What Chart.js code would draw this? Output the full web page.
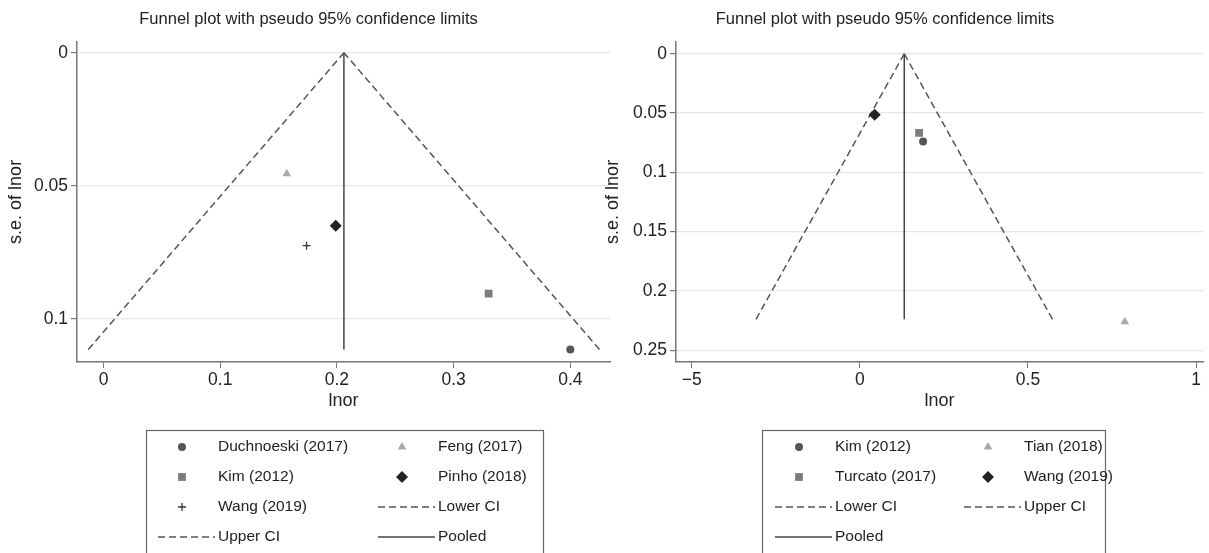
<!DOCTYPE html>
<html>
<head>
<meta charset="utf-8">
<script src="https://cdn.jsdelivr.net/npm/chart.js@4"></script>
<style>
  html, body { margin: 0; padding: 0; background: #fff; overflow: hidden; }
  body { width: 1209px; height: 553px; position: relative; }
  canvas { position: absolute; top: 0; }
  #left { left: 0; }
  #right { left: 561px; }
</style>
</head>
<body>
<canvas id="left" width="620" height="553"></canvas>
<canvas id="right" width="648" height="553"></canvas>
<script>
const chartTitle = 'Funnel plot with pseudo 95% confidence limits'

// left panel
const leftStudies = ['Duchnoeski (2017)', 'Feng (2017)', 'Kim (2012)', 'Pinho (2018)', 'Wang (2019)']
const leftLnor = [0.400, 0.157, 0.330, 0.199, 0.174]
const leftSe = [0.1115, 0.0455, 0.0905, 0.065, 0.0725]
const leftLowerX = [-0.013, 0.206]
const leftUpperX = [0.425, 0.206]
const leftPooledX = [0.206, 0.206]
const leftLineSe = [0.1115, 0]
const leftXTicks = [0, 0.1, 0.2, 0.3, 0.4]
const leftXTickLabels = ['0', '0.1', '0.2', '0.3', '0.4']
const leftYTicks = [0, 0.05, 0.1]
const leftYTickLabels = ['0', '0.05', '0.1']

// right panel
const rightStudies = ['Kim (2012)', 'Tian (2018)', 'Turcato (2017)', 'Wang (2019)']
const rightLnor = [0.188, 0.788, 0.176, 0.044]
const rightSe = [0.074, 0.226, 0.0667, 0.0515]
const rightLowerX = [-0.309, 0.132]
const rightUpperX = [0.573, 0.132]
const rightPooledX = [0.132, 0.132]
const rightLineSe = [0.224, 0]
const rightXTicks = [-0.5, 0, 0.5, 1]
const rightXTickLabels = ['\u22125', '0', '0.5', '1']
const rightYTicks = [0, 0.05, 0.1, 0.15, 0.2, 0.25]
const rightYTickLabels = ['0', '0.05', '0.1', '0.15', '0.2', '0.25']

const FONT = '"Liberation Sans", Arial, Helvetica, sans-serif'

const markers = {
  circle:  { pointStyle: 'circle',  pointRadius: 4,   color: '#555555', borderWidth: 0 },
  square:  { pointStyle: 'rect',    pointRadius: 5.5, color: '#7c7c7c', borderWidth: 0 },
  triangle:{ pointStyle: 'triangle',pointRadius: 5,   color: '#a9a9a9', borderWidth: 0 },
  diamond: { pointStyle: 'rectRot', pointRadius: 6,   color: '#222222', borderWidth: 0 },
  plus:    { pointStyle: 'cross',   pointRadius: 4,   color: '#333333', borderWidth: 1.3 }
}

function studySet(label, x, y, m) {
  return {
    label: label,
    data: [{ x: x, y: y }],
    pointStyle: m.pointStyle,
    pointRadius: m.pointRadius,
    pointBackgroundColor: m.color,
    pointBorderColor: m.color,
    pointBorderWidth: m.borderWidth,
    backgroundColor: m.color,
    borderColor: m.color,
    borderWidth: m.borderWidth
  }
}

function lineSet(label, xs, ys, dashed) {
  return {
    label: label,
    data: xs.map((x, i) => ({ x: x, y: ys[i] })),
    showLine: true,
    isLine: true,
    pointRadius: 0,
    borderColor: dashed ? '#555555' : '#444444',
    borderWidth: 1.5,
    borderDash: dashed ? [7, 4] : []
  }
}

// draws the boxed two-column legend under each plot
const boxLegend = {
  id: 'boxLegend',
  afterDraw(chart, args, opts) {
    const ctx = chart.ctx
    ctx.save()
    ctx.strokeStyle = '#666'
    ctx.lineWidth = 1.2
    ctx.strokeRect(opts.left + 0.5, opts.top + 0.5, opts.width, 200)
    ctx.font = '15.5px ' + FONT
    ctx.textBaseline = 'middle'
    chart.data.datasets.forEach((ds, i) => {
      const col = i % 2
      const row = Math.floor(i / 2)
      const tx = opts.left + opts.textX[col]
      const y = opts.top + opts.firstRow + row * opts.rowGap
      ctx.save()
      if (ds.isLine) {
        ctx.strokeStyle = ds.borderColor
        ctx.lineWidth = ds.borderWidth
        ctx.setLineDash(ds.borderDash)
        ctx.beginPath()
        ctx.moveTo(tx - 60, y)
        ctx.lineTo(tx - 3, y)
        ctx.stroke()
      } else {
        ctx.fillStyle = ds.pointBackgroundColor
        ctx.strokeStyle = ds.pointBorderColor
        ctx.lineWidth = ds.pointBorderWidth
        Chart.helpers.drawPoint(ctx, {
          pointStyle: ds.pointStyle,
          radius: ds.pointRadius,
          borderWidth: ds.pointBorderWidth,
          rotation: 0
        }, tx - 36, y)
      }
      ctx.restore()
      ctx.fillStyle = '#222'
      ctx.fillText(ds.label, tx, y)
    })
    ctx.restore()
  }
}

function makeOptions(cfg) {
  return {
    responsive: false,
    animation: false,
    events: [],
    layout: { padding: cfg.padding },
    plugins: {
      legend: { display: false },
      tooltip: { enabled: false },
      title: {
        display: true,
        text: chartTitle,
        color: '#222',
        font: { family: FONT, size: 16.5, weight: 'normal' },
        padding: { top: 10, bottom: 12 }
      },
      boxLegend: cfg.legend
    },
    scales: {
      x: {
        type: 'linear',
        min: cfg.xMin,
        max: cfg.xMax,
        afterBuildTicks: s => { s.ticks = cfg.xTicks.map(v => ({ value: v })) },
        afterFit: s => { s.height = 50 },
        ticks: {
          color: '#222',
          font: { family: FONT, size: 17.5 },
          padding: 2,
          maxRotation: 0,
          autoSkip: false,
          callback: (v, i) => cfg.xLabels[i]
        },
        grid: { drawOnChartArea: false, drawTicks: true, tickLength: 6, tickColor: '#777' },
        border: { display: true, color: '#777', width: 1.5 },
        title: {
          display: true,
          text: 'lnor',
          color: '#222',
          font: { family: FONT, size: 18 },
          padding: { top: 0, bottom: 0 }
        }
      },
      y: {
        type: 'linear',
        reverse: true,
        min: cfg.yMin,
        max: cfg.yMax,
        afterBuildTicks: s => { s.ticks = cfg.yTicks.map(v => ({ value: v })) },
        afterFit: s => { s.width = cfg.yWidth },
        ticks: {
          color: '#222',
          font: { family: FONT, size: 17.5 },
          padding: 3,
          autoSkip: false,
          callback: (v, i) => cfg.yLabels[i]
        },
        grid: { color: '#e6e6e6', lineWidth: 1.2, drawTicks: true, tickLength: 6, tickColor: '#777' },
        border: { display: true, color: '#777', width: 1.5 },
        title: {
          display: true,
          text: 's.e. of lnor',
          color: '#222',
          font: { family: FONT, size: 18 },
          padding: { top: cfg.yTitleShift, bottom: 0 }
        }
      }
    }
  }
}

const leftMarkers = [markers.circle, markers.triangle, markers.square, markers.diamond, markers.plus]
const leftData = leftStudies.map((s, i) => studySet(s, leftLnor[i], leftSe[i], leftMarkers[i]))
leftData.push(lineSet('Lower CI', leftLowerX, leftLineSe, true))
leftData.push(lineSet('Upper CI', leftUpperX, leftLineSe, true))
leftData.push(lineSet('Pooled', leftPooledX, leftLineSe, false))

new Chart(document.getElementById('left'), {
  type: 'scatter',
  data: { datasets: leftData },
  options: makeOptions({
    padding: { left: 7, right: 10, top: 0, bottom: 141 },
    xMin: -0.0227, xMax: 0.434, yMin: -0.0041, yMax: 0.1162,
    xTicks: leftXTicks, xLabels: leftXTickLabels,
    yTicks: leftYTicks, yLabels: leftYTickLabels,
    yWidth: 70, yTitleShift: -2,
    legend: { left: 146, top: 430, width: 397, textX: [72, 292], firstRow: 17, rowGap: 30 }
  }),
  plugins: [boxLegend]
})

const rightMarkers = [markers.circle, markers.triangle, markers.square, markers.diamond]
const rightData = rightStudies.map((s, i) => studySet(s, rightLnor[i], rightSe[i], rightMarkers[i]))
rightData.push(lineSet('Lower CI', rightLowerX, rightLineSe, true))
rightData.push(lineSet('Upper CI', rightUpperX, rightLineSe, true))
rightData.push(lineSet('Pooled', rightPooledX, rightLineSe, false))

new Chart(document.getElementById('right'), {
  type: 'scatter',
  data: { datasets: rightData },
  options: makeOptions({
    padding: { left: 0, right: 0, top: 0, bottom: 141 },
    xMin: -0.547, xMax: 1.0206, yMin: -0.0101, yMax: 0.260,
    xTicks: rightXTicks, xLabels: rightXTickLabels,
    yTicks: rightYTicks, yLabels: rightYTickLabels,
    yWidth: 115, yTitleShift: 41,
    legend: { left: 201, top: 430, width: 343, textX: [73, 262], firstRow: 17, rowGap: 30 }
  }),
  plugins: [boxLegend]
})
</script>
</body>
</html>
